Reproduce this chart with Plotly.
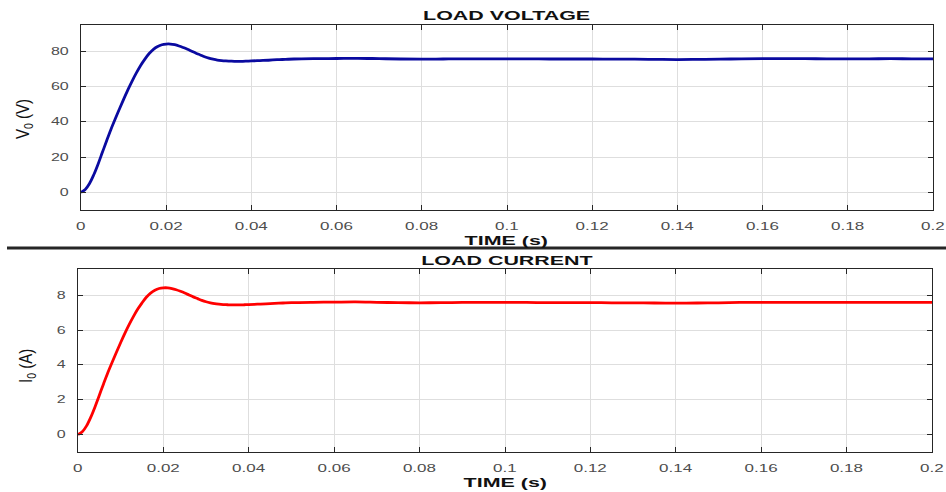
import plotly.graph_objects as go

# time (s)
time_s = [0.000, 0.001, 0.002, 0.003, 0.004, 0.005, 0.006, 0.007, 0.008, 0.009,
          0.010, 0.011, 0.012, 0.013, 0.014, 0.015, 0.016, 0.017, 0.018, 0.019,
          0.020, 0.021, 0.022, 0.023, 0.024, 0.025, 0.026, 0.027, 0.028, 0.029,
          0.030, 0.031, 0.032, 0.033, 0.034, 0.035, 0.036, 0.037, 0.038, 0.039,
          0.040, 0.042, 0.044, 0.046, 0.048, 0.050, 0.055, 0.060, 0.065, 0.070,
          0.075, 0.080, 0.085, 0.090, 0.095, 0.100, 0.105, 0.110, 0.115, 0.120,
          0.125, 0.130, 0.135, 0.140, 0.145, 0.150, 0.155, 0.160, 0.165, 0.170,
          0.175, 0.180, 0.185, 0.190, 0.195, 0.200]

# load voltage (V)
voltage_v = [0.0, 1.6, 5.0, 10.0, 16.0, 22.6, 29.2, 35.6, 41.5, 47.2,
             52.8, 58.2, 63.2, 67.8, 72.0, 75.6, 78.8, 81.2, 82.8, 83.8,
             84.2, 84.2, 83.8, 83.1, 82.2, 81.2, 80.1, 79.0, 78.0, 77.0,
             76.2, 75.6, 75.1, 74.8, 74.6, 74.5, 74.4, 74.4, 74.4, 74.5,
             74.6, 74.8, 75.0, 75.3, 75.5, 75.7, 75.9, 76.0, 76.1, 75.9,
             75.7, 75.6, 75.7, 75.8, 75.8, 75.8, 75.8, 75.7, 75.7, 75.7,
             75.6, 75.6, 75.5, 75.4, 75.5, 75.6, 75.8, 75.9, 75.9, 75.9,
             75.8, 75.8, 75.8, 75.9, 75.8, 75.8]

# load current (A)
current_a = [0.00, 0.16, 0.50, 1.00, 1.60, 2.26, 2.92, 3.56, 4.15, 4.72,
             5.28, 5.82, 6.32, 6.78, 7.20, 7.56, 7.88, 8.12, 8.28, 8.38,
             8.42, 8.42, 8.38, 8.31, 8.22, 8.12, 8.01, 7.90, 7.80, 7.70,
             7.62, 7.56, 7.51, 7.48, 7.46, 7.45, 7.44, 7.44, 7.44, 7.45,
             7.46, 7.48, 7.50, 7.53, 7.55, 7.57, 7.59, 7.60, 7.61, 7.59,
             7.57, 7.56, 7.57, 7.58, 7.58, 7.58, 7.58, 7.57, 7.57, 7.57,
             7.56, 7.56, 7.55, 7.54, 7.55, 7.56, 7.58, 7.59, 7.59, 7.59,
             7.58, 7.58, 7.58, 7.59, 7.58, 7.58]

x_ticks = [0, 0.02, 0.04, 0.06, 0.08, 0.1, 0.12, 0.14, 0.16, 0.18, 0.2]
v_ticks = [0, 20, 40, 60, 80]
i_ticks = [0, 2, 4, 6, 8]

W, H = 946, 492
def py(pix):
    return 1 - pix / H

fig = go.Figure()
fig.add_trace(go.Scatter(x=time_s, y=voltage_v, mode="lines", line_shape="spline",
                         line=dict(color="#0a0aa0", width=2.8), xaxis="x", yaxis="y",
                         showlegend=False))
fig.add_trace(go.Scatter(x=time_s, y=current_a, mode="lines", line_shape="spline",
                         line=dict(color="#ff0000", width=2.8), xaxis="x2", yaxis="y2",
                         showlegend=False))

tickfont = dict(family="Liberation Sans, Arial", size=10, color="#4d4d4d")
axcommon = dict(showline=True, linecolor="#262626", linewidth=1, mirror="ticks",
                ticks="inside", ticklen=5, tickcolor="#262626", automargin=False,
                showgrid=True, gridcolor="#dedede", gridwidth=1, zeroline=False,
                tickfont=tickfont)

fig.update_layout(
    width=W, height=H,
    margin=dict(l=0, r=0, t=0, b=0),
    paper_bgcolor="white", plot_bgcolor="white",
    xaxis=dict(domain=[81 / W, 933 / W], range=[0, 0.2], tickvals=x_ticks,
               anchor="y", ticklabelstandoff=7, **axcommon),
    yaxis=dict(domain=[py(210), py(25)], range=[-10, 95], tickvals=v_ticks,
               anchor="x", ticklabelstandoff=9, **axcommon),
    xaxis2=dict(domain=[78 / W, 932 / W], range=[0, 0.2], tickvals=x_ticks,
                anchor="y2", ticklabelstandoff=7, **axcommon),
    yaxis2=dict(domain=[py(452), py(269)], range=[-1, 9.5], tickvals=i_ticks,
                anchor="x2", ticklabelstandoff=9, **axcommon),
    shapes=[dict(type="line", xref="paper", yref="paper",
                 x0=7 / W, x1=1, y0=py(248), y1=py(248),
                 line=dict(color="#262626", width=3))],
)

bold = dict(family="Liberation Sans, Arial", size=13, color="#111111")
ylab = dict(family="Liberation Sans, Arial", size=15, color="#111111")
ann = [
    ("<b>LOAD VOLTAGE</b>", 507, 16, bold, 0),
    ("<b>TIME (s)</b>", 507, 240, bold, 0),
    ("<b>LOAD CURRENT</b>", 507, 260, bold, 0),
    ("<b>TIME (s)</b>", 505, 482, bold, 0),
    ("V<sub>0</sub> (V)", 23, 119, ylab, -90),
    ("I<sub>0</sub> (A)", 26, 366, ylab, -90),
]
for text, xp, yp, font, ang in ann:
    fig.add_annotation(text=text, x=xp / W, y=py(yp), xref="paper", yref="paper",
                       showarrow=False, font=font, textangle=ang,
                       xanchor="center", yanchor="middle")

post = """
document.body.style.margin='0px';
document.body.style.overflow='hidden';
function addT(t, s) {
  var tr = t.getAttribute('transform') || '';
  t.setAttribute('transform', tr + ' ' + s);
}
function stretchX(sel, s, mode){
  document.querySelectorAll(sel).forEach(function(t){
    var b = t.getBBox();
    var cx = mode === 'end' ? b.x + b.width : b.x + b.width / 2;
    addT(t, 'translate(' + cx + ',0) scale(' + s + ',1) translate(' + (-cx) + ',0)');
  });
}
stretchX('.xtick text, .x2tick text', 1.7, 'mid');
stretchX('.ytick text, .y2tick text', 1.6, 'end');
document.querySelectorAll('.annotation-text').forEach(function(t){
  var b = t.getBBox();
  if (t.textContent.indexOf('LOAD') >= 0 || t.textContent.indexOf('TIME') >= 0) {
    var cx = b.x + b.width / 2;
    addT(t, 'translate(' + cx + ',0) scale(1.65,1) translate(' + (-cx) + ',0)');
  } else {
    var cy = b.y + b.height / 2;
    addT(t, 'translate(0,' + cy + ') scale(1,1.2) translate(0,' + (-cy) + ')');
  }
});
"""

fig.write_html("out.html", config={"displayModeBar": False}, post_script=post)
